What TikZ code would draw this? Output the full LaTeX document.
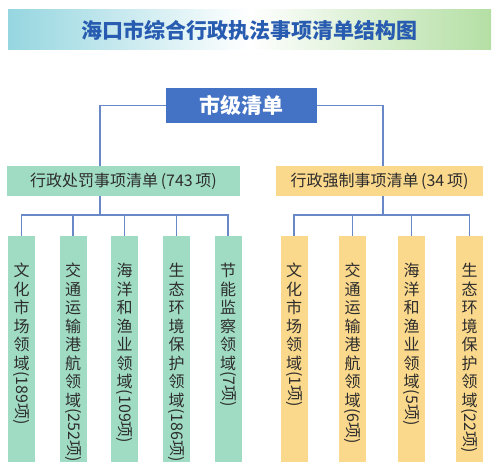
\documentclass[tikz,border=0pt]{standalone}
\usepackage{fontspec}
\setmainfont{Noto Sans CJK SC}
\usetikzlibrary{positioning}

\definecolor{ttlleft}{RGB}{150,214,224}
\definecolor{ttlright}{RGB}{180,223,164}
\definecolor{ttlblue}{RGB}{40,92,176}
\definecolor{topblue}{RGB}{68,114,196}
\definecolor{pengreen}{RGB}{160,220,196}
\definecolor{frcyellow}{RGB}{250,216,140}
\definecolor{linkblue}{RGB}{104,136,200}
\definecolor{txtgray}{RGB}{45,45,45}

\newcommand{\side}[1]{\rotatebox[origin=c]{-90}{#1}}

\begin{document}
\begin{tikzpicture}[x=1pt,y=-1pt,
  ttl/.style={rectangle,minimum width=483pt,minimum height=40pt,left color=ttlleft,right color=ttlright,middle color=white,font=\bfseries\fontsize{21}{21}\selectfont,text=ttlblue},
  head/.style={rectangle,fill=topblue,minimum width=151pt,minimum height=35pt,font=\bfseries\fontsize{21}{21}\selectfont,text=white},
  cat/.style={rectangle,minimum height=30pt,font=\fontsize{16}{16}\selectfont,text=txtgray},
  pen/.style={cat,fill=pengreen,minimum width=233pt},
  frc/.style={cat,fill=frcyellow,minimum width=207pt},
  leaf/.style={rectangle,minimum width=27pt,minimum height=226pt,anchor=north},
  vlab/.style={align=center,inner sep=0pt,font=\fontsize{16}{18.5}\selectfont,text=txtgray},
  link/.style={draw=linkblue,line width=1.3pt}
]
  \useasboundingbox (0,0) rectangle (499,476);

  \node[ttl] (ttl) at (249.5,30) {海口市综合行政执法事项清单结构图};
  \node[head] (top) at (241.5,105.5) {市级清单};
  \node[cat,pen] (pen) at (123.5,181) {行政处罚事项清单\,(743\,项)};
  \node[cat,frc] (frc) at (379.5,181) {行政强制事项清单\,(34\,项)};

  % leaves, penalty side
  \node[leaf,fill=pengreen] (p1) at (21.5,236) {};
  \node[leaf,fill=pengreen] (p2) at (73,236) {};
  \node[leaf,fill=pengreen] (p3) at (124.5,236) {};
  \node[leaf,fill=pengreen] (p4) at (176.5,236) {};
  \node[leaf,fill=pengreen] (p5) at (228,236) {};
  % leaves, enforcement side
  \node[leaf,fill=frcyellow] (f1) at (294,236) {};
  \node[leaf,fill=frcyellow] (f2) at (352.5,236) {};
  \node[leaf,fill=frcyellow] (f3) at (411.5,236) {};
  \node[leaf,fill=frcyellow] (f4) at (469.5,236) {};

  \node[vlab,below=27pt of p1.north] (tp1) {文\\化\\市\\场\\领\\域\\\side{(189项)}};
  \node[vlab,below=27pt of p2.north] (tp2) {交\\通\\运\\输\\港\\航\\领\\域\\\side{(252项)}};
  \node[vlab,below=27pt of p3.north] (tp3) {海\\洋\\和\\渔\\业\\领\\域\\\side{(109项)}};
  \node[vlab,below=27pt of p4.north] (tp4) {生\\态\\环\\境\\保\\护\\领\\域\\\side{(186项)}};
  \node[vlab,below=27pt of p5.north] (tp5) {节\\能\\监\\察\\领\\域\\\side{(7项)}};
  \node[vlab,below=27pt of f1.north] (tf1) {文\\化\\市\\场\\领\\域\\\side{(1项)}};
  \node[vlab,below=27pt of f2.north] (tf2) {交\\通\\运\\输\\港\\航\\领\\域\\\side{(6项)}};
  \node[vlab,below=27pt of f3.north] (tf3) {海\\洋\\和\\渔\\业\\领\\域\\\side{(5项)}};
  \node[vlab,below=27pt of f4.north] (tf4) {生\\态\\环\\境\\保\\护\\领\\域\\\side{(22项)}};

  \coordinate (pj) at (100,166);
  \coordinate (fj) at (383,166);
  \coordinate (pb) at (100,215);
  \coordinate (fb) at (383,215);

  \draw[link] (top.west) -| (pj);
  \draw[link] (top.east) -| (fj);
  \draw[link] (pb |- pen.south) -- (pb);
  \draw[link] (fb |- frc.south) -- (fb);

  \draw[link] (p1.north) |- (pb) -| (p5.north);
  \foreach \i in {2,3,4} \draw[link] (p\i.north) -- (p\i.north |- pb);
  \draw[link] (f1.north) |- (fb) -| (f4.north);
  \foreach \i in {2,3} \draw[link] (f\i.north) -- (f\i.north |- fb);
\end{tikzpicture}
\end{document}
